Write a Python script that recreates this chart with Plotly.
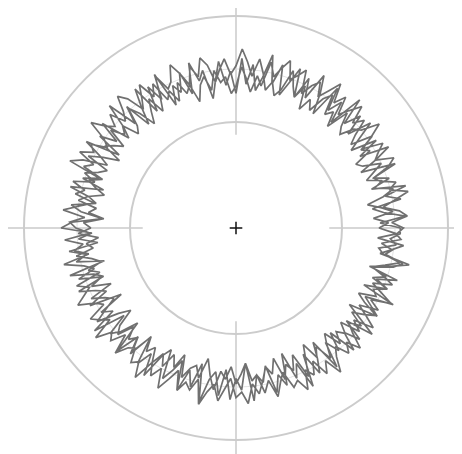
import plotly.graph_objects as go

# Noisy radius samples, three revolutions, 2 degrees apart
loop1_r = [
    1.55,1.36,1.60,1.40,1.30,1.58,1.44,1.65,1.33,1.52,1.38,1.62,1.29,1.47,1.63,1.35,1.56,1.31,1.44,1.61,
    1.38,1.58,1.42,1.68,1.34,1.55,1.41,1.63,1.30,1.50,1.66,1.39,1.57,1.35,1.62,1.45,1.32,1.60,1.40,1.67,
    1.44,1.31,1.55,1.36,1.60,1.27,1.48,1.35,1.58,1.40,1.24,1.52,1.43,1.62,1.33,1.56,1.38,1.47,1.29,1.64,
    1.40,1.57,1.33,1.62,1.45,1.28,1.54,1.37,1.66,1.43,1.32,1.60,1.39,1.55,1.30,1.63,1.46,1.35,1.58,1.69,
    1.37,1.52,1.30,1.61,1.42,1.34,1.57,1.47,1.26,1.55,1.65,1.36,1.49,1.31,1.59,1.43,1.54,1.28,1.63,1.41,
    1.33,1.60,1.45,1.36,1.56,1.25,1.50,1.40,1.65,1.34,1.55,1.46,1.29,1.61,1.38,1.52,1.31,1.58,1.43,1.64,
    1.39,1.30,1.58,1.47,1.35,1.63,1.41,1.56,1.32,1.68,1.45,1.37,1.59,1.34,1.62,1.42,1.53,1.28,1.64,1.40,
    1.48,1.33,1.60,1.44,1.56,1.26,1.53,1.40,1.66,1.35,1.58,1.45,1.30,1.62,1.37,1.51,1.33,1.60,1.42,1.57,
    1.36,1.63,1.44,1.29,1.57,1.47,1.38,1.65,1.32,1.54,1.41,1.60,1.31,1.50,1.67,1.38,1.48,1.59,1.34,1.52,
]
loop2_r = [
    1.58,1.47,1.62,1.55,1.40,1.52,1.66,1.49,1.57,1.43,1.38,1.55,1.63,1.46,1.52,1.60,1.41,1.54,1.67,1.50,
    1.45,1.32,1.38,1.51,1.29,1.43,1.36,1.55,1.47,1.31,1.40,1.27,1.49,1.35,1.44,1.58,1.37,1.30,1.42,1.33,
    1.48,1.61,1.44,1.57,1.69,1.53,1.45,1.60,1.50,1.39,1.56,1.64,1.47,1.58,1.42,1.55,1.66,1.51,1.46,1.62,
    1.43,1.30,1.47,1.36,1.25,1.41,1.52,1.34,1.28,1.44,1.37,1.50,1.31,1.39,1.46,1.27,1.42,1.55,1.33,1.40,
    1.52,1.40,1.60,1.47,1.55,1.36,1.49,1.64,1.43,1.57,1.51,1.38,1.62,1.45,1.54,1.41,1.66,1.48,1.39,1.56,
    1.35,1.47,1.29,1.52,1.40,1.33,1.45,1.58,1.37,1.26,1.43,1.50,1.34,1.46,1.39,1.55,1.30,1.44,1.36,1.49,
    1.61,1.50,1.68,1.56,1.45,1.63,1.53,1.59,1.47,1.70,1.57,1.49,1.64,1.52,1.42,1.60,1.55,1.66,1.48,1.58,
    1.46,1.34,1.42,1.28,1.50,1.37,1.45,1.31,1.56,1.40,1.27,1.44,1.35,1.52,1.39,1.30,1.47,1.36,1.43,1.33,
    1.52,1.41,1.60,1.48,1.37,1.55,1.44,1.63,1.50,1.39,1.57,1.46,1.34,1.53,1.61,1.43,1.49,1.38,1.56,1.51,
]
loop3_r = [
    1.35,1.44,1.30,1.49,1.38,1.26,1.42,1.53,1.36,1.45,1.31,1.40,1.50,1.33,1.28,1.46,1.39,1.55,1.34,1.43,
    1.58,1.48,1.65,1.54,1.44,1.61,1.50,1.68,1.56,1.46,1.59,1.52,1.41,1.63,1.55,1.49,1.66,1.57,1.47,1.60,
    1.36,1.45,1.29,1.41,1.52,1.34,1.27,1.43,1.38,1.50,1.32,1.46,1.39,1.24,1.42,1.35,1.48,1.31,1.44,1.37,
    1.57,1.46,1.63,1.51,1.42,1.59,1.67,1.53,1.45,1.60,1.49,1.56,1.69,1.50,1.43,1.58,1.52,1.64,1.47,1.55,
    1.34,1.46,1.38,1.28,1.43,1.51,1.33,1.40,1.25,1.44,1.37,1.49,1.30,1.42,1.36,1.53,1.39,1.31,1.45,1.35,
    1.60,1.49,1.57,1.66,1.51,1.44,1.62,1.55,1.47,1.68,1.53,1.59,1.45,1.64,1.52,1.48,1.61,1.56,1.70,1.50,
    1.37,1.48,1.33,1.44,1.29,1.50,1.39,1.35,1.46,1.26,1.41,1.54,1.36,1.43,1.31,1.47,1.38,1.28,1.45,1.40,
    1.58,1.47,1.64,1.52,1.43,1.60,1.55,1.67,1.49,1.57,1.45,1.62,1.51,1.68,1.54,1.46,1.59,1.50,1.63,1.48,
    1.39,1.50,1.35,1.46,1.56,1.40,1.31,1.47,1.42,1.54,1.37,1.49,1.33,1.45,1.58,1.41,1.36,1.52,1.46,1.55,
]
step_deg = 2.0
ring_r = loop1_r + loop2_r + loop3_r + [loop1_r[0]]
ring_theta = [i * step_deg for i in range(len(ring_r))]

grid_radii = [1, 2]
mid_radius = 1.5
cross_inner = 0.88
cross_outer = 2.3

# geometry (figure 454x446 inside the 8px page margin)
W, H = 454, 446
CX, CY = 228, 220          # centre in figure pixels (from left / top)
PX_PER_UNIT = 106
R_PX = 220
r_max = R_PX / PX_PER_UNIT

fig = go.Figure()

# crosshair segments (cartesian overlay, same scale as polar)
hx = [-cross_outer, -cross_inner, None, cross_inner, cross_outer, None, 0, 0, None, 0, 0]
hy = [0, 0, None, 0, 0, None, cross_inner, cross_outer, None, -cross_inner, -cross_outer]
fig.add_trace(go.Scatter(x=hx, y=hy, mode="lines",
                         line=dict(color="#cacaca", width=1.5), hoverinfo="skip"))

# faint middle reference circle
circ_theta = [a * 2.0 for a in range(181)]
fig.add_trace(go.Scatterpolar(
    r=[mid_radius] * len(circ_theta), theta=circ_theta, mode="lines",
    line=dict(color="#e2e2e2", width=1), hoverinfo="skip"))

# noisy ring
fig.add_trace(go.Scatterpolar(
    r=ring_r, theta=ring_theta, mode="lines",
    line=dict(color="#707070", width=1.7)))

# center marker
fig.add_trace(go.Scatterpolar(
    r=[0], theta=[0], mode="markers",
    marker=dict(symbol="cross-thin", size=9, line=dict(color="#111111", width=1.5))))

fig.update_layout(
    width=W, height=H,
    margin=dict(l=0, r=0, t=0, b=0, pad=0),
    paper_bgcolor="white",
    plot_bgcolor="white",
    showlegend=False,
    hovermode=False,
    xaxis=dict(domain=[0, 1], range=[-CX / PX_PER_UNIT, (W - CX) / PX_PER_UNIT],
               visible=False, showgrid=False, zeroline=False, fixedrange=True),
    yaxis=dict(domain=[0, 1], range=[-(H - CY) / PX_PER_UNIT, CY / PX_PER_UNIT],
               visible=False, showgrid=False, zeroline=False, fixedrange=True),
    polar=dict(
        domain=dict(x=[(CX - R_PX) / W, (CX + R_PX) / W],
                    y=[1 - (CY + R_PX) / H, 1 - (CY - R_PX) / H]),
        bgcolor="rgba(0,0,0,0)",
        radialaxis=dict(range=[0, r_max], tickvals=grid_radii, showticklabels=False,
                        ticks="", showline=False, gridcolor="#cccccc", gridwidth=1.5),
        angularaxis=dict(visible=False),
    ),
)

fig.write_html("out.html")
